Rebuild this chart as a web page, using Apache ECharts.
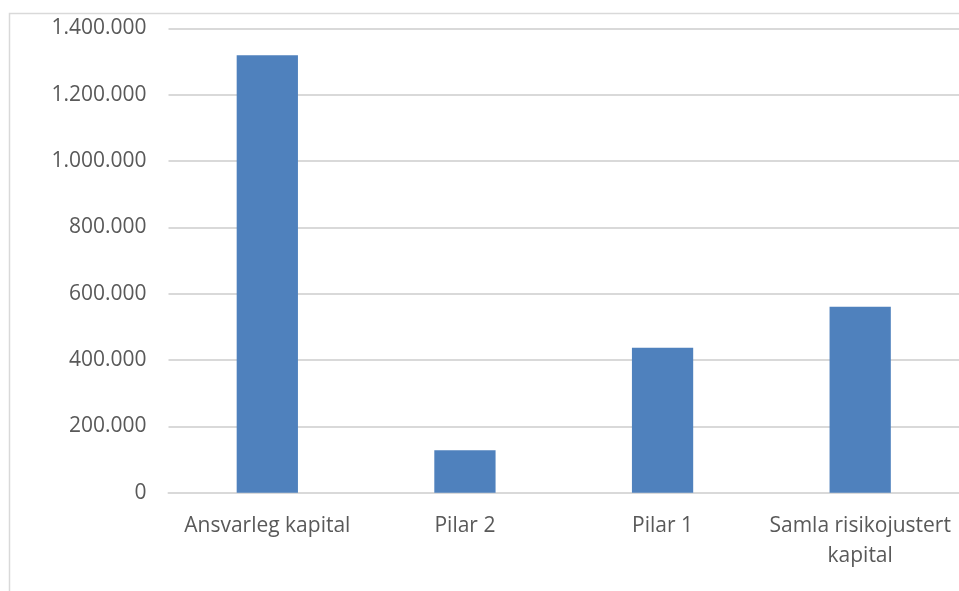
<!DOCTYPE html>
<html>
<head>
<meta charset="utf-8">
<script src="https://cdn.jsdelivr.net/npm/echarts@6/dist/echarts.min.js"></script>
<style>
  html, body { margin: 0; padding: 0; background: #ffffff; overflow: hidden; }
  #chart { width: 959px; height: 591px; }
</style>
</head>
<body>
<div id="chart"></div>
<script>
// Kapitalbehov, kroner
const categories = ['Ansvarleg kapital', 'Pilar 2', 'Pilar 1', 'Samla risikojustert\nkapital'];
const values = [1319000, 128000, 437000, 561000];
const yTicks = { min: 0, max: 1400000, interval: 200000 };

function formatThousands(v) {
  return String(v).replace(/\B(?=(\d{3})+(?!\d))/g, '.');
}

const chart = echarts.init(document.getElementById('chart'), null, { renderer: 'canvas' });
chart.setOption({
  animation: false,
  backgroundColor: '#ffffff',
  textStyle: { fontFamily: 'Open Sans' },
  graphic: [{
    type: 'rect',
    shape: { x: 9.5, y: 13.5, width: 1000, height: 1000 },
    style: { fill: 'none', stroke: '#d9d9d9', lineWidth: 1.5 },
    silent: true
  }],
  grid: { left: 168.5, width: 796, top: 28.5, height: 464.2, containLabel: false },
  xAxis: {
    type: 'category',
    data: categories,
    axisLine: { show: true, lineStyle: { color: '#d9d9d9', width: 2 } },
    axisTick: { show: false },
    axisLabel: {
      color: '#595959',
      fontSize: 21,
      margin: 18,
      lineHeight: 30,
      interval: 0
    }
  },
  yAxis: {
    type: 'value',
    min: yTicks.min,
    max: yTicks.max,
    interval: yTicks.interval,
    axisLine: { show: false },
    axisTick: { show: false },
    splitLine: { lineStyle: { color: '#d9d9d9', width: 2 } },
    axisLabel: {
      color: '#595959',
      fontSize: 21,
      margin: 22,
      formatter: formatThousands
    }
  },
  series: [{
    type: 'bar',
    data: values,
    barWidth: '31%',
    itemStyle: { color: '#4f81bd' }
  }]
});
</script>
</body>
</html>
